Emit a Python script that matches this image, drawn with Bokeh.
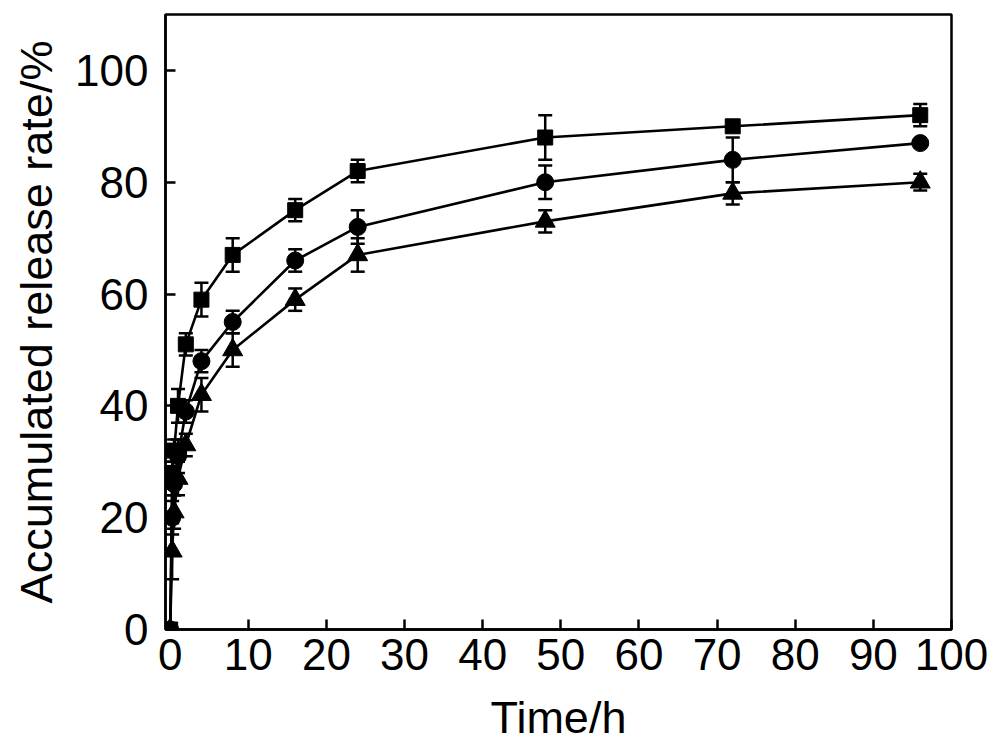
from bokeh.plotting import figure
from bokeh.models import ColumnDataSource, Whisker, TeeHead, Range1d, FixedTicker
from bokeh.embed import file_html
from bokeh.resources import INLINE

# ---- data ----
time_h = [0, 0.25, 0.5, 1, 2, 4, 8, 16, 24, 48, 72, 96]

square_vals = [0, 28, 32, 40, 51, 59, 67, 75, 82, 88, 90, 92]
square_err = [0, 2, 2, 3, 2, 3, 3, 2, 2, 4, 1, 2]

circle_vals = [0, 20, 26, 31, 39, 48, 55, 66, 72, 80, 84, 87]
circle_err = [0, 3, 2, 3, 2, 2, 2, 2, 3, 3, 4, 0.5]

triangle_vals = [0, 14, 21, 27, 33, 42, 50, 59, 67, 73, 78, 80]
triangle_err = [0, 5, 3, 3, 2, 3, 3, 2, 3, 2, 2, 1.5]

x_ticks = [0, 10, 20, 30, 40, 50, 60, 70, 80, 90, 100]
y_ticks = [0, 20, 40, 60, 80, 100]

x_title = "Time/h"
y_title = "Accumulated release rate/%"

FONT = "Liberation Sans"

p = figure(width=997, height=745, output_backend="svg", toolbar_location=None,
           x_range=Range1d(-0.6, 100), y_range=Range1d(0, 110),
           min_border_left=165, min_border_right=46, min_border_top=14,
           min_border_bottom=116)

p.outline_line_color = "black"
p.outline_line_width = 2.5
p.xgrid.visible = False
p.ygrid.visible = False
p.background_fill_color = "white"
p.border_fill_color = "white"

for ax, ticks in ((p.xaxis[0], x_ticks), (p.yaxis[0], y_ticks)):
    ax.ticker = FixedTicker(ticks=ticks)
    ax.axis_line_width = 2.5
    ax.axis_line_color = "black"
    ax.major_tick_in = 10
    ax.major_tick_out = 0
    ax.major_tick_line_width = 2.5
    ax.minor_tick_line_color = None
    ax.major_label_text_font = FONT
    ax.major_label_text_font_size = "44px"
    ax.major_label_text_color = "black"
    ax.axis_label_text_font = FONT
    ax.axis_label_text_font_size = "45px"
    ax.axis_label_text_font_style = "normal"
    ax.axis_label_text_color = "black"

p.xaxis.axis_label = x_title
p.yaxis.axis_label = y_title
p.xaxis.major_label_standoff = 9
p.yaxis.major_label_standoff = 17
p.xaxis.axis_label_standoff = 19
p.yaxis.axis_label_standoff = 10

series = [
    (square_vals, square_err, "square", 15),
    (circle_vals, circle_err, "circle", 17),
    (triangle_vals, triangle_err, "triangle", 20),
]

for vals, errs, marker, size in series:
    src = ColumnDataSource(dict(
        x=time_h, y=vals,
        upper=[v + e for v, e in zip(vals, errs)],
        lower=[v - e for v, e in zip(vals, errs)],
    ))
    p.line("x", "y", source=src, line_color="black", line_width=2.6)
    w = Whisker(source=src, base="x", upper="upper", lower="lower",
                dimension="height", line_color="black", line_width=2.5,
                upper_head=TeeHead(size=14, line_width=2.5, line_color="black"),
                lower_head=TeeHead(size=14, line_width=2.5, line_color="black"))
    p.add_layout(w)
    p.scatter("x", "y", source=src, marker=marker, size=size,
              fill_color="black", line_color="black")

open("out.html", "w").write(file_html(p, INLINE))
